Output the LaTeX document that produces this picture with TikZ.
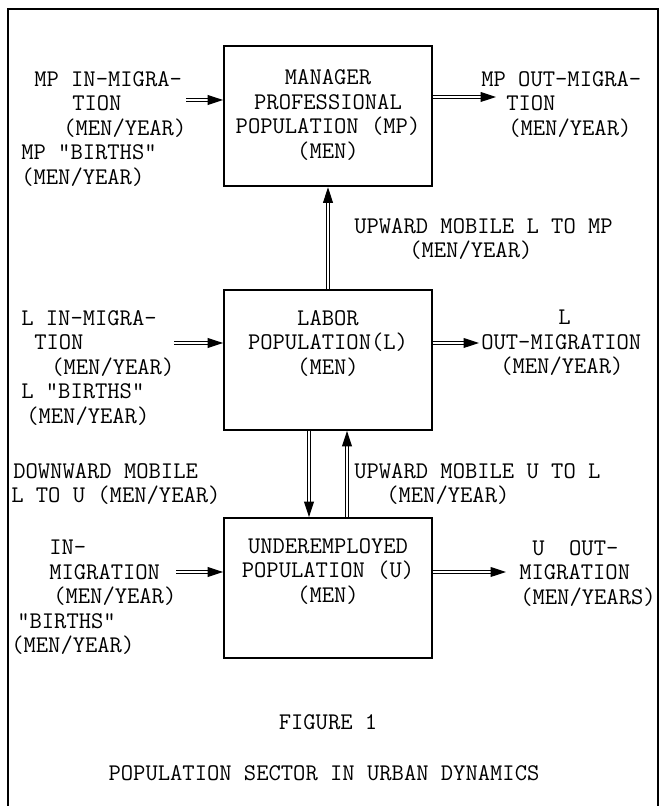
\documentclass[tikz,border=0pt]{standalone}
\usepackage{fontspec}
\usetikzlibrary{arrows.meta}
\usetikzlibrary{positioning}
\tikzset{
popbox/.style={draw,line width=1.3pt,minimum width=5.2cm,minimum height=3.5cm,inner sep=0pt},
boxtext/.style={align=center,inner sep=0pt,font=\ttfamily\fontsize{17}{17.4}\selectfont},
lbl/.style={align=left,inner sep=0pt,anchor=north west,font=\ttfamily\fontsize{17}{17.4}\selectfont},
flow/.style={double,double distance=2pt,line width=0.7pt,-{Triangle[length=11pt,width=7pt]}}
}

\begin{document}
\begin{tikzpicture}
\useasboundingbox (0,0) rectangle (16.6,20.15);
\draw[line width=1.5pt] (0.2,0) -- (0.2,19.925) -- (16.45,19.925) -- (16.45,0);

\node[popbox] (mp) at (8.2,17.24) {};
\node[popbox] (lbr) at (8.2,11.15) {};
\node[popbox] (und) at (8.2,5.45) {};
\node[boxtext,below=0.6cm of mp.north] (mptext) {MANAGER\\PROFESSIONAL\\POPULATION (MP)\\(MEN)};
\node[boxtext,below=0.525cm of lbr.north] (lbrtext) {LABOR\\POPULATION(L)\\(MEN)};
\node[boxtext,below=0.525cm of und.north] (undtext) {UNDEREMPLOYED\\POPULATION (U)\\(MEN)};

\node[lbl] (mpinl) at (0.525,18.375) {\hspace*{3.25mm}MP IN-MIGRA-\\\hspace*{12.75mm}TION\\\hspace*{10.5mm}(MEN/YEAR)\\MP "BIRTHS"\\(MEN/YEAR)};
\node[lbl] (mpoutl) at (12.025,18.375) {MP OUT-MIGRA-\\\hspace*{6.25mm}TION\\\hspace*{6.75mm}(MEN/YEAR)};
\node[lbl] (upmpl) at (8.85,14.7) {UPWARD MOBILE L TO MP\\\hspace*{13.75mm}(MEN/YEAR)};
\node[lbl] (linl) at (0.525,12.4) {L IN-MIGRA-\\\hspace*{3.25mm}TION\\\hspace*{7.5mm}(MEN/YEAR)\\L "BIRTHS"\\\hspace*{1.25mm}(MEN/YEAR)};
\node[lbl] (loutl) at (12.025,12.4) {\hspace*{19.25mm}L\\OUT-MIGRATION\\\hspace*{4.75mm}(MEN/YEAR)};
\node[lbl] (downl) at (0.275,8.575) {\hspace*{0.5mm}DOWNWARD MOBILE\\L TO U (MEN/YEAR)};
\node[lbl] (upll) at (8.85,8.575) {UPWARD MOBILE U TO L\\\hspace*{8mm}(MEN/YEAR)};
\node[lbl] (uinl) at (0.275,6.65) {\hspace*{9.5mm}IN-\\\hspace*{9.5mm}MIGRATION\\\hspace*{10.5mm}(MEN/YEAR)\\\hspace*{1.5mm}"BIRTHS"\\(MEN/YEAR)};
\node[lbl] (uoutl) at (12.85,6.65) {\hspace*{4.5mm}U\ \ OUT-\\\hspace*{1.25mm}MIGRATION\\\hspace*{1.5mm}(MEN/YEARS)};

\coordinate (mpin) at (4.65,17.65);
\coordinate (mpout) at (12.4,17.725);
\coordinate (lin) at (4.35,11.575);
\coordinate (lout) at (11.975,11.575);
\coordinate (uin) at (4.4,5.85);
\coordinate (uout) at (12.65,5.85);
\draw[flow] (mpin) -- (mp.west |- mpin);
\draw[flow] (mp.east |- mpout) -- (mpout);
\draw[flow] (lin) -- (lbr.west |- lin);
\draw[flow] (lbr.east |- lout) -- (lout);
\draw[flow] (uin) -- (und.west |- uin);
\draw[flow] (und.east |- uout) -- (uout);
\draw[flow] (lbr.north) -- (mp.south);
\draw[flow] ([xshift=-0.475cm]lbr.south) -- ([xshift=-0.475cm]und.north);
\draw[flow] ([xshift=0.475cm]und.north) -- ([xshift=0.475cm]lbr.south);

\node[boxtext] (fig) at (8.2,2.1) {FIGURE 1};
\node[boxtext] (title) at (8.1,0.825) {POPULATION SECTOR IN URBAN DYNAMICS};
\end{tikzpicture}
\end{document}
